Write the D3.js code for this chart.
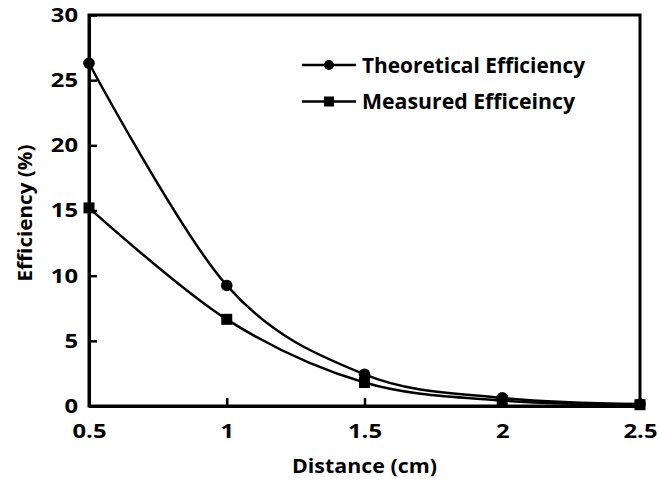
<!DOCTYPE html>
<html>
<head>
<meta charset="utf-8">
<script src="https://cdn.jsdelivr.net/npm/d3@7"></script>
<style>
  html, body { margin: 0; padding: 0; background: #fff; }
  svg text { font-family: "Open Sans", Lato, sans-serif; font-weight: 700; fill: #000; }
</style>
</head>
<body>
<svg id="chart" width="660" height="482"></svg>
<script>
const distances = [0.5, 1, 1.5, 2, 2.5];
const theoretical = [26.3, 9.25, 2.43, 0.62, 0.15];
const measured = [15.2, 6.65, 1.8, 0.42, 0.1];
const xTicks = [0.5, 1, 1.5, 2, 2.5];
const yTicks = [0, 5, 10, 15, 20, 25, 30];
const seriesNames = ["Theoretical Efficiency", "Measured Efficeincy"];

const svg = d3.select("#chart");
const m = { left: 89, right: 640, top: 15, bottom: 406 };
const x = d3.scaleLinear().domain([0.5, 2.5]).range([m.left, m.right]);
const y = d3.scaleLinear().domain([0, 30]).range([m.bottom, m.top]);

function stretch(sel, factor) {
  sel.each(function () {
    const w = this.getComputedTextLength();
    d3.select(this).attr("textLength", w * factor).attr("lengthAdjust", "spacingAndGlyphs");
  });
}
function fitTo(sel, target) {
  sel.attr("textLength", target).attr("lengthAdjust", "spacingAndGlyphs");
}

// frame
svg.append("rect")
  .attr("x", m.left).attr("y", m.top)
  .attr("width", m.right - m.left).attr("height", m.bottom - m.top)
  .attr("fill", "none").attr("stroke", "#000").attr("stroke-width", 3);

// axes
const xAxis = d3.axisBottom(x).tickValues(xTicks).tickSizeInner(-8).tickSizeOuter(0)
  .tickPadding(18).tickFormat(d3.format("~g"));
const gx = svg.append("g").attr("transform", `translate(0,${m.bottom})`).call(xAxis);
gx.select(".domain").attr("stroke-width", 3);
gx.selectAll(".tick line").attr("stroke-width", 2.5);
gx.selectAll(".tick text").style("font-size", "20px").attr("font-family", null);

const yAxis = d3.axisLeft(y).tickValues(yTicks).tickSizeInner(-8).tickSizeOuter(0)
  .tickPadding(11);
const gy = svg.append("g").attr("transform", `translate(${m.left},0)`).call(yAxis);
gy.select(".domain").attr("stroke-width", 3);
gy.selectAll(".tick line").attr("stroke-width", 2.5);
gy.selectAll(".tick text").style("font-size", "20px");
gx.attr("font-family", null); gy.attr("font-family", null);

// widen tick labels to match the reference's wide glyphs
const tickFactor = 34 / gx.select(".tick text").node().getComputedTextLength();
stretch(gx.selectAll(".tick text"), tickFactor);
stretch(gy.selectAll(".tick text"), tickFactor);

// axis titles
const xt = svg.append("text").attr("x", (m.left + m.right) / 2).attr("y", 473)
  .attr("text-anchor", "middle").style("font-size", "19px").text("Distance (cm)");
fitTo(xt, 145);
const yt = svg.append("text")
  .attr("transform", `translate(32,${213}) rotate(-90)`)
  .attr("text-anchor", "middle").style("font-size", "19px").text("Efficiency (%)");
fitTo(yt, 137);

const line = d3.line().curve(d3.curveCardinal.tension(0))
  .x((d, i) => x(distances[i])).y(d => y(d));

[theoretical, measured].forEach(vals => {
  svg.append("path").attr("d", line(vals)).attr("fill", "none")
    .attr("stroke", "#000").attr("stroke-width", 2.5);
});

svg.selectAll("circle.t").data(theoretical).enter().append("circle")
  .attr("cx", (d, i) => x(distances[i])).attr("cy", d => y(d)).attr("r", 5.8).attr("fill", "#000");
svg.selectAll("rect.mk").data(measured).enter().append("rect")
  .attr("x", (d, i) => x(distances[i]) - 5.5).attr("y", d => y(d) - 5.5)
  .attr("width", 11).attr("height", 11).attr("fill", "#000");

// legend
const lg = svg.append("g");
const rows = [65, 101.5];
const legendWidths = [223, 213];
seriesNames.forEach((name, i) => {
  const yy = rows[i];
  lg.append("line").attr("x1", 302).attr("x2", 356).attr("y1", yy).attr("y2", yy)
    .attr("stroke", "#000").attr("stroke-width", 2.5);
  if (i === 0) lg.append("circle").attr("cx", 329).attr("cy", yy).attr("r", 5).attr("fill", "#000");
  else lg.append("rect").attr("x", 324).attr("y", yy - 5).attr("width", 10).attr("height", 10).attr("fill", "#000");
  const t = lg.append("text").attr("x", 362).attr("y", yy).attr("dy", "0.36em")
    .style("font-size", "21px").text(name);
  fitTo(t, legendWidths[i]);
});
</script>
</body>
</html>
